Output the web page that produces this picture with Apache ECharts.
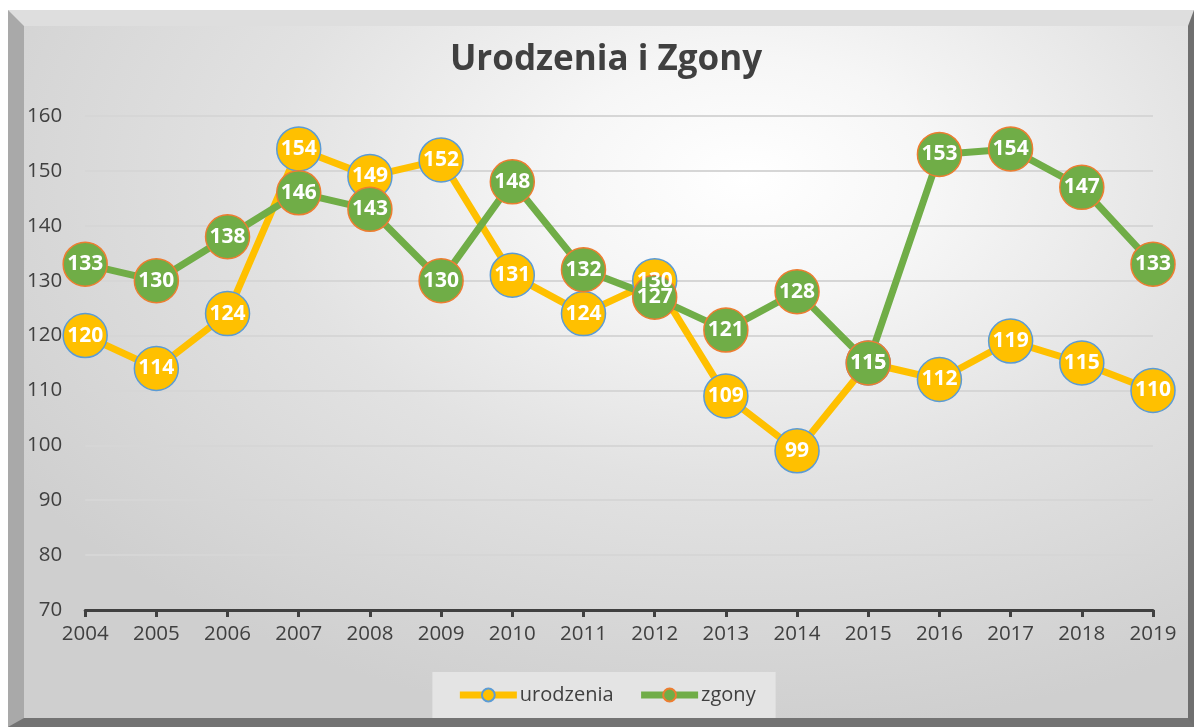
<!DOCTYPE html>
<html>
<head>
<meta charset="utf-8">
<script src="https://cdn.jsdelivr.net/npm/echarts@6/dist/echarts.min.js"></script>
<style>
html, body { margin: 0; padding: 0; width: 1194px; height: 727px; background: #ffffff; overflow: hidden; }
.frame {
    position: absolute;
    left: 8px;
    top: 10px;
    width: 1164px;
    height: 692px;
    border-left: 16px solid #a9a9a9;
    border-top: 16px solid #dedede;
    border-right: 6px solid #6f6f6f;
    border-bottom: 9px solid #737373;
}
#main {
    width: 1164px;
    height: 692px;
    background: radial-gradient(ellipse 75% 80% at 62% 22%, #ffffff 0%, #f6f6f6 22%, #e2e2e2 55%, #cfcfcf 100%);
}
</style>
</head>
<body>
<div class="frame"><div id="main"></div></div>
<script>
let years = ['2004','2005','2006','2007','2008','2009','2010','2011','2012','2013','2014','2015','2016','2017','2018','2019']
let urodzenia = [120,114,124,154,149,152,131,124,130,109,99,115,112,119,115,110]
let zgony = [133,130,138,146,143,130,148,132,127,121,128,115,153,154,147,133]
let title = 'Urodzenia i Zgony'

let myChart = echarts.init(document.getElementById('main'))
let font = '"Open Sans", "DejaVu Sans", sans-serif'
let option = {
    animation: false,
    textStyle: { fontFamily: font },
    title: {
        text: title,
        left: 'center',
        top: 12,
        textStyle: {
            color: '#404040',
            fontSize: 35,
            fontWeight: 'bold',
            fontFamily: font
        }
    },
    grid: {
        left: 61,
        right: 35,
        top: 90,
        bottom: 108
    },
    legend: {
        bottom: 0,
        left: 'center',
        backgroundColor: '#e4e4e4',
        padding: [13, 20, 13, 24],
        itemWidth: 57,
        itemHeight: 16,
        itemGap: 24,
        lineStyle: { width: 7 },
        textStyle: {
            color: '#404040',
            fontSize: 20,
            fontFamily: font,
            padding: [0, 0, 0, -2]
        },
        data: ['urodzenia', 'zgony']
    },
    xAxis: {
        type: 'category',
        data: years,
        boundaryGap: false,
        axisLine: {
            show: true,
            lineStyle: { color: '#404040', width: 3 }
        },
        axisTick: {
            show: true,
            length: 7,
            lineStyle: { color: '#404040', width: 3 }
        },
        axisLabel: {
            color: '#404040',
            fontSize: 20.5,
            margin: 14
        },
        splitLine: { show: false }
    },
    yAxis: {
        type: 'value',
        min: 70,
        max: 160,
        interval: 10,
        axisLine: { show: false },
        axisTick: { show: false },
        axisLabel: {
            color: '#404040',
            fontSize: 20.5,
            margin: 23
        },
        splitLine: {
            lineStyle: { color: '#d6d6d6', width: 2 }
        }
    },
    series: [
        {
            name: 'urodzenia',
            type: 'line',
            data: urodzenia,
            symbol: 'circle',
            symbolSize: 44,
            lineStyle: { color: '#FFC000', width: 7 },
            itemStyle: { color: '#FFC000', borderColor: '#5B9BD5', borderWidth: 1.5 },
            label: {
                show: true,
                position: 'inside',
                color: '#ffffff',
                fontSize: 21,
                fontWeight: 'bold',
                fontFamily: font
            }
        },
        {
            name: 'zgony',
            type: 'line',
            data: zgony,
            symbol: 'circle',
            symbolSize: 44,
            lineStyle: { color: '#70AD47', width: 7 },
            itemStyle: { color: '#70AD47', borderColor: '#ED7D31', borderWidth: 1.5 },
            label: {
                show: true,
                position: 'inside',
                color: '#ffffff',
                fontSize: 21,
                fontWeight: 'bold',
                fontFamily: font
            }
        }
    ]
}
myChart.setOption(option)
</script>
</body>
</html>
